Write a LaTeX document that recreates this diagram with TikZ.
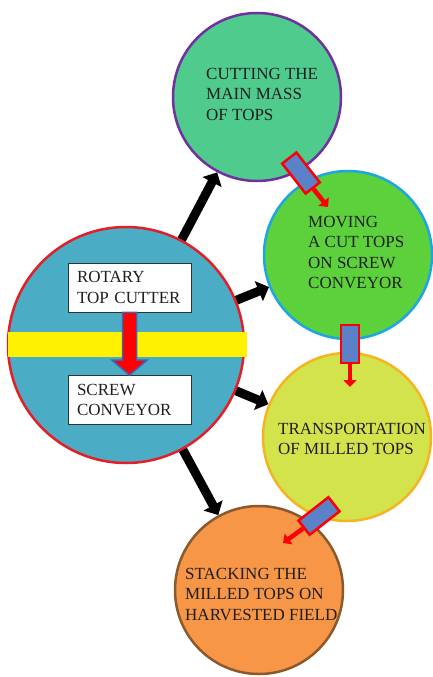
\documentclass[tikz,border=0pt]{standalone}
\usepackage{fontspec}
\setmainfont{Liberation Serif}
\usepackage{xcolor}
\usetikzlibrary{arrows.meta, positioning, calc}

\definecolor{cutgreen}{HTML}{4ECB8D}
\definecolor{cutpurple}{HTML}{7030A0}
\definecolor{movegreen}{HTML}{5DD13C}
\definecolor{moveblue}{HTML}{1CA6E2}
\definecolor{transyellow}{HTML}{D3E34B}
\definecolor{transorange}{HTML}{F5B421}
\definecolor{stackorange}{HTML}{F79646}
\definecolor{stackbrown}{HTML}{8B5A2B}
\definecolor{unitblue}{HTML}{4BACC6}
\definecolor{unitred}{HTML}{E41E26}
\definecolor{slotblue}{HTML}{5B82C9}
\definecolor{edgeblue}{HTML}{3E64AD}

\begin{document}
\begin{tikzpicture}[
  x=1pt, y=-1pt,
  font=\fontsize{17}{20.5}\selectfont,
  stage/.style={
    circle, minimum size=168pt, inner sep=0pt, line width=2.5pt
  },
  steptext/.style={
    anchor=north west, align=left, inner sep=0pt, text=black!88
  },
  partbox/.style={
    rectangle, draw=black!80, fill=white, line width=0.8pt,
    minimum width=123pt, minimum height=49pt, text width=105pt,
    inner xsep=9pt, align=left, text=black!88
  },
  flow/.style={-{Triangle[width=21pt,length=11pt]}, line width=9pt, draw=black},
  feeder/.style={
    rectangle, draw=red, fill=slotblue, line width=2.5pt,
    minimum width=38pt, minimum height=18pt, inner sep=0pt
  },
  feed/.style={-{Triangle[width=13pt,length=7pt]}, line width=4.5pt, draw=red}
]
\fill[white] (0,0) rectangle (433,677);
\useasboundingbox (0,0) rectangle (433,677);

% harvester unit
\node[circle, minimum size=236pt, inner sep=0pt, line width=2.5pt,
      draw=unitred, fill=unitblue] (unit) at (126,345) {};
\node[rectangle, fill=yellow, minimum width=239pt, minimum height=25pt,
      inner sep=0pt] (belt) at (127.5,344.5) {};
\node[partbox] (cutter) at (129.5,287.5) {ROTARY\\TOP CUTTER};
\node[partbox] (screw)  at (129.5,400)   {SCREW\\CONVEYOR};
\draw[fill=red, draw=edgeblue, line width=1.5pt, line join=miter]
  ($(cutter.south)+(-7,0)$) -- ($(screw.north)+(-7,-15)$)
  -- ($(screw.north)+(-17.5,-15)$) -- (screw.north)
  -- ($(screw.north)+(17.5,-15)$) -- ($(screw.north)+(7,-15)$)
  -- ($(cutter.south)+(7,0)$) -- cycle;

% stages
\node[stage, draw=cutpurple,   fill=cutgreen]     (cut)   at (257,97)  {};
\node[stage, draw=moveblue,    fill=movegreen]    (move)  at (348,255) {};
\node[stage, draw=transorange, fill=transyellow]  (trans) at (347,437) {};
\node[stage, draw=stackbrown,  fill=stackorange]  (stack) at (259,590) {};

\foreach \s in {cut, move, trans, stack}
  \draw[flow] (unit) -- (\s);

\node[steptext] (tcut)   at (206,68)  {CUTTING THE\\MAIN MASS\\OF TOPS};
\node[steptext] (tmove)  at (308,216) {MOVING\\A CUT TOPS\\ON SCREW\\CONVEYOR};
\node[steptext] (ttrans) at (278,423) {TRANSPORTATION\\OF MILLED TOPS};
\node[steptext] (tstack) at (185,568) {STACKING THE\\MILLED TOPS ON\\HARVESTED FIELD};

% feeders between stages
\node[feeder, rotate=-52]  (f1) at (301,173) {};
\coordinate (f1tip) at (328,207);
\node[feeder, rotate=-90]  (f2) at (350,344) {};
\coordinate (f2tip) at (350,387);
\node[feeder, rotate=-142] (f3) at (319,516) {};
\coordinate (f3tip) at (283,543);
\foreach \f in {f1, f2, f3}
  \draw[feed] (\f.east) -- (\f tip);
\end{tikzpicture}
\end{document}
